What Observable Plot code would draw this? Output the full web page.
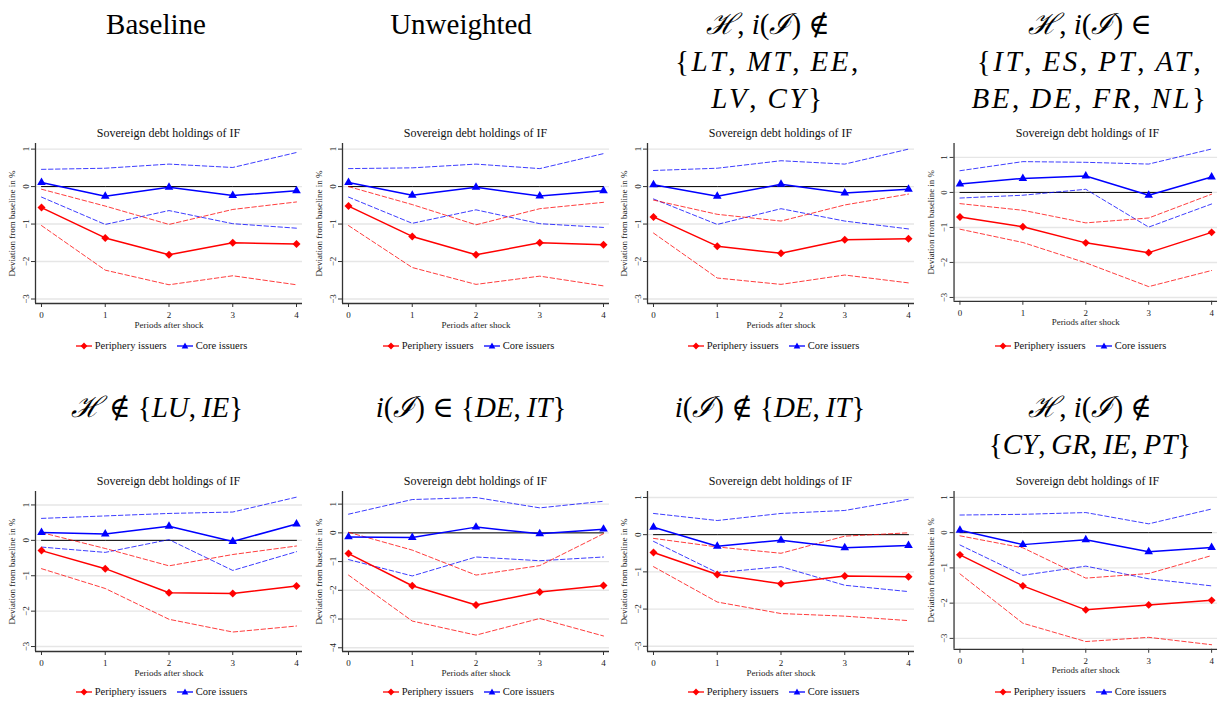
<!DOCTYPE html>
<html>
<head>
<meta charset="utf-8">
<script src="https://cdn.jsdelivr.net/npm/d3@7"></script>
<script src="https://cdn.jsdelivr.net/npm/@observablehq/plot@0.6"></script>
<style>
  html, body { margin: 0; padding: 0; background: #fff; }
  #root { position: relative; width: 1220px; height: 702px; overflow: hidden; font-family: "Liberation Serif", "DejaVu Serif", serif; }
  .heading { position: absolute; width: 340px; text-align: center; font-size: 29px; line-height: 37px; color: #000; white-space: nowrap; font-weight: normal; }
  .heading .wide { letter-spacing: 2.6px; }
  .subtitle { position: absolute; width: 267px; text-align: center; font-size: 12px; line-height: 14px; color: #111; white-space: nowrap; }
  .plot { position: absolute; }
  .legend { position: absolute; width: 305px; display: flex; justify-content: center; align-items: center; gap: 10px; font-size: 10.5px; color: #111; white-space: nowrap; }
  .legend span.item { display: inline-flex; align-items: center; gap: 3px; }
  .plot svg { overflow: visible; font-family: "Liberation Serif", "DejaVu Serif", serif; }
</style>
</head>
<body>
<div id="root"></div>
<script>
// ---------- data ----------
const periods = [0, 1, 2, 3, 4];
const subtitle = "Sovereign debt holdings of IF";
const xLabel = "Periods after shock";
const yLabel = "Deviation from baseline in %";
const seriesNames = ["Periphery issuers", "Core issuers"];

const panelHeadings = [
  ["Baseline"],
  ["Unweighted"],
  ["<i>ℋ</i>, <i>i</i>(<i>ℐ</i>) ∉", "{<i>LT</i>,\u2009<i>MT</i>,\u2009<i>EE</i>,", "<i>LV</i>,\u2009<i>CY</i>}"],
  ["<i>ℋ</i>, <i>i</i>(<i>ℐ</i>) ∈", "{<i>IT</i>,\u2009<i>ES</i>,\u2009<i>PT</i>,\u2009<i>AT</i>,", "<i>BE</i>,\u2009<i>DE</i>,\u2009<i>FR</i>,\u2009<i>NL</i>}"],
  ["<i>ℋ</i> ∉ {<i>LU</i>,\u2009<i>IE</i>}"],
  ["<i>i</i>(<i>ℐ</i>) ∈ {<i>DE</i>,\u2009<i>IT</i>}"],
  ["<i>i</i>(<i>ℐ</i>) ∉ {<i>DE</i>,\u2009<i>IT</i>}"],
  ["<i>ℋ</i>, <i>i</i>(<i>ℐ</i>) ∉", "{<i>CY</i>,\u2009<i>GR</i>,\u2009<i>IE</i>,\u2009<i>PT</i>}"]
];

const peripheryEst = [
  [-0.56, -1.37, -1.82, -1.50, -1.53],
  [-0.52, -1.33, -1.82, -1.50, -1.55],
  [-0.81, -1.59, -1.78, -1.42, -1.39],
  [-0.70, -0.98, -1.44, -1.72, -1.14],
  [-0.29, -0.80, -1.48, -1.50, -1.29],
  [-0.72, -1.84, -2.51, -2.06, -1.83],
  [-0.48, -1.07, -1.32, -1.11, -1.13],
  [-0.63, -1.51, -2.19, -2.05, -1.92]
];
const peripheryUpper = [
  [-0.07, -0.52, -1.01, -0.61, -0.41],
  [0.00, -0.48, -1.02, -0.59, -0.42],
  [-0.36, -0.74, -0.92, -0.49, -0.20],
  [-0.32, -0.51, -0.87, -0.73, -0.05],
  [0.22, -0.23, -0.72, -0.40, -0.16],
  [0.02, -0.60, -1.47, -1.14, -0.03],
  [-0.10, -0.33, -0.50, -0.04, 0.05],
  [-0.09, -0.43, -1.29, -1.16, -0.65]
];
const peripheryLower = [
  [-1.04, -2.23, -2.62, -2.38, -2.62],
  [-1.04, -2.16, -2.61, -2.39, -2.65],
  [-1.24, -2.44, -2.61, -2.36, -2.57],
  [-1.05, -1.43, -2.01, -2.69, -2.23],
  [-0.80, -1.36, -2.23, -2.59, -2.42],
  [-1.47, -3.07, -3.56, -2.98, -3.59],
  [-0.86, -1.81, -2.12, -2.19, -2.31],
  [-1.17, -2.57, -3.09, -2.97, -3.18]
];
const coreEst = [
  [0.11, -0.26, -0.02, -0.24, -0.11],
  [0.11, -0.23, -0.02, -0.25, -0.11],
  [0.05, -0.26, 0.06, -0.17, -0.07],
  [0.24, 0.40, 0.47, -0.08, 0.44],
  [0.22, 0.18, 0.40, -0.03, 0.46],
  [-0.14, -0.16, 0.20, -0.03, 0.13],
  [0.20, -0.31, -0.15, -0.35, -0.29],
  [0.07, -0.34, -0.20, -0.54, -0.42]
];
const coreUpper = [
  [0.46, 0.49, 0.60, 0.51, 0.91],
  [0.48, 0.50, 0.60, 0.48, 0.88],
  [0.43, 0.49, 0.69, 0.60, 1.00],
  [0.62, 0.88, 0.86, 0.81, 1.24],
  [0.62, 0.69, 0.76, 0.80, 1.22],
  [0.65, 1.16, 1.23, 0.87, 1.10],
  [0.57, 0.38, 0.57, 0.65, 0.95],
  [0.50, 0.52, 0.57, 0.25, 0.67]
];
const coreLower = [
  [-0.28, -1.01, -0.64, -0.99, -1.11],
  [-0.28, -0.98, -0.62, -0.99, -1.09],
  [-0.33, -1.01, -0.59, -0.92, -1.13],
  [-0.16, -0.08, 0.09, -0.99, -0.33],
  [-0.19, -0.34, 0.02, -0.85, -0.32],
  [-0.93, -1.50, -0.84, -0.97, -0.84],
  [-0.18, -1.02, -0.86, -1.36, -1.53],
  [-0.35, -1.21, -0.95, -1.31, -1.51]
];
const yTickSets = [
  [-3, -2, -1, 0, 1], [-3, -2, -1, 0, 1], [-3, -2, -1, 0, 1], [-3, -2, -1, 0, 1],
  [-3, -2, -1, 0, 1], [-4, -3, -2, -1, 0, 1], [-3, -2, -1, 0, 1], [-3, -2, -1, 0, 1]
];

// ---------- layout (positions / styles) ----------
const yDomains = [
  [-3.12, 1.15], [-3.12, 1.15], [-3.12, 1.15], [-3.11, 1.40],
  [-3.14, 1.38], [-4.13, 1.44], [-3.14, 1.16], [-3.31, 1.17]
];
const colLeft = [0, 307, 612, 919];
const headingCenter = [[156, 461, 768, 1090], [157, 471, 770, 1090]];
const rowHeadingTop = [6, 389];
const rowSvgTop = [137, 485];
const rowSubtitleTop = [126, 474];
const rowLegendTop = [340, 686];
const xDomain = [-0.094, 4.094];
const RED = "#ff0000", BLUE = "#0000ff";

const root = document.getElementById("root");

function legendSymbol(color, kind) {
  const marker = kind === "diamond"
    ? `<path d="M8,0.6 L11.4,4 L8,7.4 L4.6,4 Z" fill="${color}"/>`
    : `<path d="M8,0.6 L11.3,6.4 L4.7,6.4 Z" fill="${color}"/>`;
  return `<svg width="16" height="8" viewBox="0 0 16 8"><line x1="0" y1="4" x2="16" y2="4" stroke="${color}" stroke-width="1.3"/>${marker}</svg>`;
}

for (let p = 0; p < 8; p++) {
  const row = Math.floor(p / 4), col = p % 4;
  const left = colLeft[col];

  // heading
  const h = document.createElement("div");
  h.className = "heading";
  h.style.left = (headingCenter[row][col] - 170) + "px";
  h.style.top = rowHeadingTop[row] + "px";
  h.innerHTML = panelHeadings[p]
    .map((line, i) => (row === 0 && i > 0) ? `<span class="wide">${line}</span>` : line)
    .join("<br>");
  root.appendChild(h);

  // subtitle
  const s = document.createElement("div");
  s.className = "subtitle";
  s.style.left = (left + 35) + "px";
  s.style.top = rowSubtitleTop[row] + "px";
  s.textContent = subtitle;
  root.appendChild(s);

  const mk = (est, lo, hi, group) => periods.map((t, i) => ({t, est: est[p][i], lo: lo[p][i], hi: hi[p][i], group}));
  const per = mk(peripheryEst, peripheryLower, peripheryUpper, seriesNames[0]);
  const core = mk(coreEst, coreLower, coreUpper, seriesNames[1]);
  const zero = periods.map(t => ({t, v: 0}));
  const ticks = yTickSets[p];
  const dash = "4.5,2.5";

  const chart = Plot.plot({
    width: 305,
    height: 194,
    marginLeft: 35,
    marginRight: 3,
    marginTop: 6,
    marginBottom: 28,
    style: {fontFamily: "'Liberation Serif', 'DejaVu Serif', serif", background: "transparent", color: "#222"},
    x: {domain: xDomain},
    y: {domain: yDomains[p]},
    marks: [
      Plot.gridY(ticks, {stroke: "#e6e6e6", strokeOpacity: 1, strokeWidth: 1.4}),
      Plot.line(zero, {x: "t", y: "v", stroke: "#000", strokeWidth: 1}),
      Plot.line(core, {x: "t", y: "hi", stroke: BLUE, strokeWidth: 0.9, strokeDasharray: dash, strokeOpacity: 0.85}),
      Plot.line(core, {x: "t", y: "lo", stroke: BLUE, strokeWidth: 0.9, strokeDasharray: dash, strokeOpacity: 0.85}),
      Plot.line(per, {x: "t", y: "hi", stroke: RED, strokeWidth: 0.9, strokeDasharray: dash, strokeOpacity: 0.85}),
      Plot.line(per, {x: "t", y: "lo", stroke: RED, strokeWidth: 0.9, strokeDasharray: dash, strokeOpacity: 0.85}),
      Plot.line(per, {x: "t", y: "est", stroke: RED, strokeWidth: 1.5}),
      Plot.line(core, {x: "t", y: "est", stroke: BLUE, strokeWidth: 1.5}),
      Plot.dot(per, {x: "t", y: "est", symbol: "diamond2", fill: RED, r: 3.6}),
      Plot.dot(core, {x: "t", y: "est", symbol: "triangle", fill: BLUE, r: 3.2}),
      Plot.ruleX([xDomain[0]], {stroke: "#333", strokeWidth: 1.3}),
      Plot.ruleY([yDomains[p][0]], {stroke: "#333", strokeWidth: 1.3}),
      Plot.axisX(periods, {tickSize: 4, tickPadding: 4, fontSize: 9, label: xLabel, labelAnchor: "center", labelArrow: "none", labelOffset: 24, stroke: "#333"}),
      Plot.axisY(ticks, {tickSize: 4, tickPadding: 3, tickRotate: -90, fontSize: 9, label: yLabel, labelAnchor: "center", labelArrow: "none", labelOffset: 27, stroke: "#333"})
    ]
  });
  const wrap = document.createElement("div");
  wrap.className = "plot";
  wrap.style.left = left + "px";
  wrap.style.top = rowSvgTop[row] + "px";
  wrap.appendChild(chart);
  root.appendChild(wrap);

  // legend
  const lg = document.createElement("div");
  lg.className = "legend";
  lg.style.left = (left + 9) + "px";
  lg.style.top = rowLegendTop[row] + "px";
  lg.innerHTML = `<span class="item">${legendSymbol(RED, "diamond")}${seriesNames[0]}</span><span class="item">${legendSymbol(BLUE, "triangle")}${seriesNames[1]}</span>`;
  root.appendChild(lg);
}
</script>
</body>
</html>
